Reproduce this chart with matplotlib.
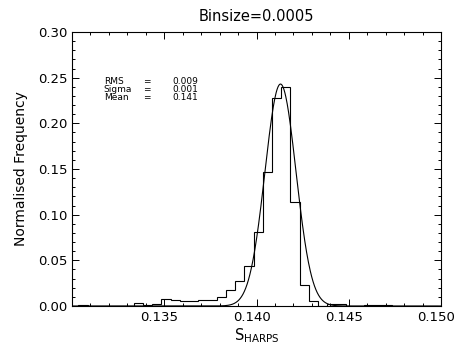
import numpy as np
import matplotlib.pyplot as plt
from matplotlib.ticker import MultipleLocator, FormatStrFormatter
from matplotlib.transforms import ScaledTranslation

# histogram, binsize 0.0005
bin_start = 0.13034
binsize = 0.0005
freq = [0.001, 0.0005, 0.0005, 0.0005, 0.0005, 0.0005, 0.003, 0.0015, 0.002, 0.0073,
        0.0066, 0.0055, 0.0055, 0.0066, 0.0066, 0.0095, 0.0175, 0.027, 0.044, 0.081,
        0.147, 0.228, 0.240, 0.114, 0.023, 0.005, 0.0005, 0.0025, 0.0025, 0.0005,
        0.0005, 0.001, 0.001, 0.001, 0.0, 0.0, 0.0, 0.0, 0.0]

# gaussian fit
g_peak = 0.243
g_mean = 0.14130
g_sigma = 0.00084

stats = ['RMS', 'Sigma', 'Mean']
stat_vals = ['0.009', '0.001', '0.141']

plt.rcParams['font.family'] = ['DejaVu Sans']
fig = plt.figure(figsize=(4.59, 3.54), dpi=100)
ax = fig.add_axes([0.1569, 0.1356, 0.8039, 0.774])

edges = bin_start + binsize * np.arange(len(freq) + 1)
ax.stairs(freq, edges, color='black', lw=0.8)

xg = np.linspace(0.130, 0.150, 800)
ax.plot(xg, g_peak * np.exp(-(xg - g_mean) ** 2 / (2 * g_sigma ** 2)), color='black', lw=0.8)

ax.set_xlim(0.130, 0.150)
ax.set_ylim(0.0, 0.30)
ax.set_xticks([0.135, 0.140, 0.145, 0.150])
ax.xaxis.set_major_formatter(FormatStrFormatter('%.3f'))
ax.xaxis.set_minor_locator(MultipleLocator(0.001))
ax.yaxis.set_major_locator(MultipleLocator(0.05))
ax.yaxis.set_major_formatter(FormatStrFormatter('%.2f'))
ax.yaxis.set_minor_locator(MultipleLocator(0.01))
ax.tick_params(which='both', direction='in', top=True, right=True, labelsize=9.5, width=0.7)
ax.tick_params(which='major', length=5)
ax.tick_params(which='minor', length=2.5)
for s in ax.spines.values():
    s.set_linewidth(0.8)

# labels sit a little left of the ticks, as in the original
shift = ScaledTranslation(-0.05, 0, fig.dpi_scale_trans)
for lab in ax.get_xticklabels():
    lab.set_transform(lab.get_transform() + shift)

ax.set_title('Binsize=0.0005', fontsize=10.5, pad=8)
ax.set_ylabel('Normalised Frequency', fontsize=10, labelpad=7)
ax.set_xlabel(r'$\mathregular{S_{HARPS}}$', fontsize=10.5, labelpad=2)

for i, (s, v) in enumerate(zip(stats, stat_vals)):
    y = 0.246 - i * 0.0088
    ax.text(0.13172, y, s, fontsize=6.5, va='center')
    ax.text(0.13385, y, '=', fontsize=6.5, va='center')
    ax.text(0.13544, y, v, fontsize=6.5, va='center')

fig.savefig('out.png', dpi=100)
